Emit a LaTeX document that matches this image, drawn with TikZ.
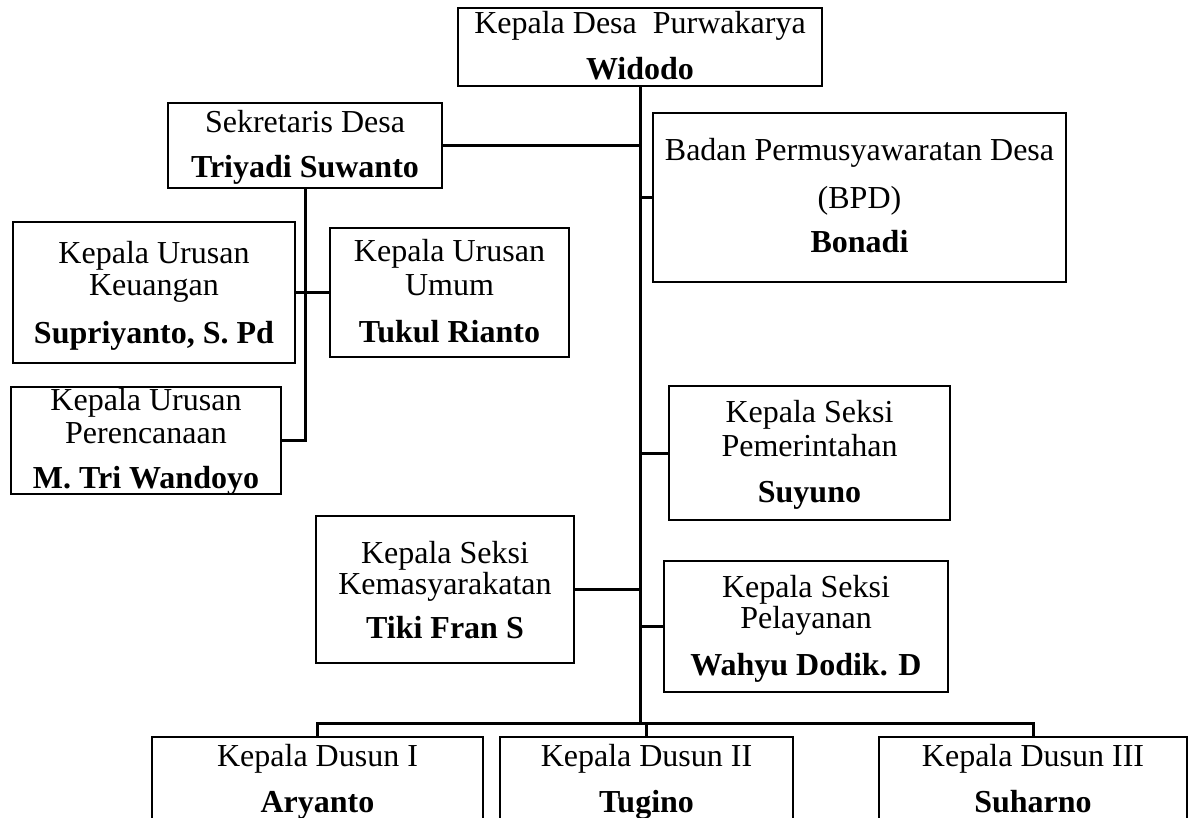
\documentclass[tikz,border=0pt]{standalone}
\usepackage{fontspec}
\setmainfont{Liberation Serif}
\begin{document}
\begin{tikzpicture}[x=1pt,y=-1pt,
  box/.style={draw, line width=2.6pt, inner sep=0pt},
  link/.style={line width=3pt},
  txt/.style={inner sep=0pt, anchor=base, font=\fontsize{32}{35}\selectfont},
  bld/.style={txt, font=\fontsize{32}{35}\selectfont\bfseries}]
\useasboundingbox (0,0) rectangle (1191,818);
\clip (0,0) rectangle (1191,818);
% boxes
\node[box, minimum width=364pt, minimum height=78pt] (kades) at (640,47) {};
\node[box, minimum width=274pt, minimum height=85pt] (sek) at (305,145.5) {};
\node[box, minimum width=282pt, minimum height=141pt] (keu) at (154,292.5) {};
\node[box, minimum width=239pt, minimum height=129pt] (umum) at (449.5,292.5) {};
\node[box, minimum width=270pt, minimum height=107pt] (per) at (146,440.5) {};
\node[box, minimum width=413pt, minimum height=169pt] (bpd) at (859.5,197.5) {};
\node[box, minimum width=281pt, minimum height=134pt] (pem) at (809.5,453) {};
\node[box, minimum width=258pt, minimum height=147pt] (kem) at (445,589.5) {};
\node[box, minimum width=284pt, minimum height=131pt] (pel) at (806,626.5) {};
\node[box, minimum width=331pt, minimum height=123pt] (d1) at (317.5,798.5) {};
\node[box, minimum width=293pt, minimum height=123pt] (d2) at (646.5,798.5) {};
\node[box, minimum width=308pt, minimum height=123pt] (d3) at (1033,798.5) {};
% texts
\node[txt] (kades1) at (640,34) {Kepala Desa~ Purwakarya};
\node[bld] (kades2) at (640,80) {Widodo};
\node[txt] (sek1) at (305,133) {Sekretaris Desa};
\node[bld] (sek2) at (305,178) {Triyadi Suwanto};
\node[txt] (keu1) at (154,264) {Kepala Urusan};
\node[txt] (keu2) at (154,296) {Keuangan};
\node[bld] (keu3) at (154,343) {Supriyanto, S. Pd};
\node[txt] (umum1) at (449.5,262) {Kepala Urusan};
\node[txt] (umum2) at (449.5,295) {Umum};
\node[bld] (umum3) at (449.5,342) {Tukul Rianto};
\node[txt] (per1) at (146,410) {Kepala Urusan};
\node[txt] (per2) at (146,443) {Perencanaan};
\node[bld] (per3) at (146,488) {M. Tri Wandoyo};
\node[txt] (bpd1) at (859.5,161) {Badan Permusyawaratan Desa};
\node[txt] (bpd2) at (859.5,209) {(BPD)};
\node[bld] (bpd3) at (859.5,253) {Bonadi};
\node[txt] (pem1) at (809.5,422) {Kepala Seksi};
\node[txt] (pem2) at (809.5,456) {Pemerintahan};
\node[bld] (pem3) at (809.5,502) {Suyuno};
\node[txt] (kem1) at (445,563) {Kepala Seksi};
\node[txt] (kem2) at (445,594) {Kemasyarakatan};
\node[bld] (kem3) at (445,638) {Tiki Fran S};
\node[txt] (pel1) at (806,597) {Kepala Seksi};
\node[txt] (pel2) at (806,628) {Pelayanan};
\node[bld] (pel3) at (806,675) {Wahyu Dodik. D};
\node[txt] (d1a) at (317.5,766) {Kepala Dusun I};
\node[bld] (d1b) at (317.5,812) {Aryanto};
\node[txt] (d2a) at (646.5,766) {Kepala Dusun II};
\node[bld] (d2b) at (646.5,812) {Tugino};
\node[txt] (d3a) at (1033,766) {Kepala Dusun III};
\node[bld] (d3b) at (1033,812) {Suharno};
% connectors
\coordinate (bus) at (640,723);
\draw[link] (kades.south) -- (bus);
\draw[link] (sek.east) -- (sek.east -| kades.south);
\draw[link] (bpd.west) -- (bpd.west -| kades.south);
\draw[link] (pem.west) -- (pem.west -| kades.south);
\draw[link] (kem.east) -- (kem.east -| kades.south);
\draw[link] (pel.west) -- (pel.west -| kades.south);
\draw[link] (d1.north) |- (bus);
\draw[link] (d3.north) |- (bus);
\draw[link] (d2.north) -- (d2.north |- bus);
\draw[link] (sek.south) |- (per.east);
\draw[link] (keu.east) -- (umum.west);
\end{tikzpicture}
\end{document}
